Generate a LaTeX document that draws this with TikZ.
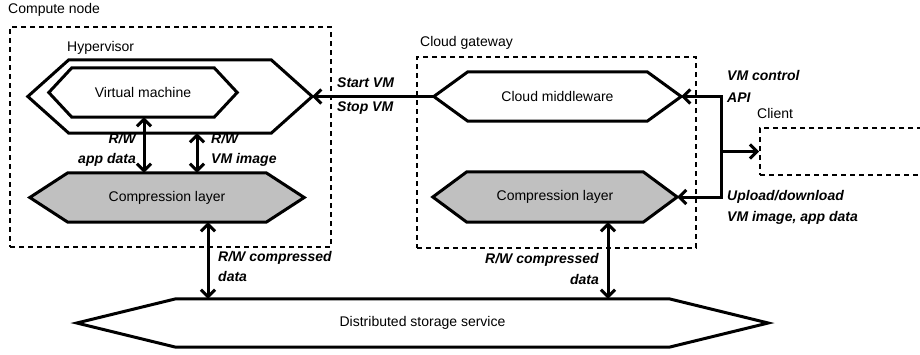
\documentclass[tikz,border=0pt]{standalone}
\usepackage{fontspec}
\setmainfont{Liberation Sans}
\usetikzlibrary{arrows.meta,backgrounds}
\definecolor{layergray}{RGB}{192,192,192}
\newcommand\hexoutline[3]{%
  \draw[hexline,#3] (#1.west) -- ([xshift=#2]#1.north west) -- ([xshift=-#2]#1.north east)
    -- (#1.east) -- ([xshift=-#2]#1.south east) -- ([xshift=#2]#1.south west) -- cycle;}
\begin{document}
\begin{tikzpicture}[x=1pt,y=-1pt,
  hexnode/.style={inner sep=0pt, font=\fontsize{14}{17}\selectfont},
  hexline/.style={line width=3pt, line join=miter},
  group/.style={draw, line width=1.8pt, dash pattern=on 5pt off 4pt, inner sep=0pt},
  grouplabel/.style={anchor=west, inner sep=0pt, font=\fontsize{14}{17}\selectfont},
  lbl/.style={inner sep=0pt, font=\fontsize{14}{20}\bfseries\itshape\selectfont},
  arr/.style={line width=3pt, -{Straight Barb[length=7pt,width=14pt]}},
  darr/.style={line width=3pt, {Straight Barb[length=7pt,width=14pt]}-{Straight Barb[length=7pt,width=14pt]}}]
\useasboundingbox (0,0) rectangle (920,354);

% groups
\node[group, minimum width=321pt, minimum height=220pt] (compute) at (170.5,137) {};
\node[group, minimum width=279pt, minimum height=191pt] (gateway) at (556.5,152.5) {};
\node[group, minimum width=170pt, minimum height=47pt] (client) at (845,151.5) {};
\node[grouplabel] (computelbl) at (8,10) {Compute node};
\node[grouplabel] (hvlbl) at (67,48) {Hypervisor};
\node[grouplabel] (gwlbl) at (420,43) {Cloud gateway};
\node[grouplabel] (clientlbl) at (757,113) {Client};

% hexagon nodes
\node[hexnode, minimum width=284pt, minimum height=73pt] (hv) at (170,96.5) {};
\node[hexnode, minimum width=188pt, minimum height=49pt] (vm) at (143,92.5) {Virtual machine};
\node[hexnode, minimum width=274pt, minimum height=49pt] (cl) at (167,197.5) {Compression layer};
\node[hexnode, minimum width=247pt, minimum height=49pt] (mw) at (557.5,96.5) {Cloud middleware};
\node[hexnode, minimum width=244pt, minimum height=50pt] (cr) at (555,197) {Compression layer};
\node[hexnode, minimum width=691pt, minimum height=48pt] (st) at (422.5,323) {Distributed storage service};

\begin{scope}[on background layer]
\hexoutline{hv}{41pt}{fill=white}
\hexoutline{vm}{23pt}{fill=white}
\hexoutline{cl}{38pt}{fill=layergray}
\hexoutline{mw}{34pt}{fill=white}
\hexoutline{cr}{34pt}{fill=layergray}
\hexoutline{st}{99pt}{fill=white}
\end{scope}

% connectors
\draw[arr] (mw.west) -- (hv.east);
\coordinate (jc) at (721,151.5);
\draw[arr] (jc) |- (mw.east);
\draw[arr] (jc) |- (cr.east);
\draw[arr] (jc) -- (client.west);

\coordinate (a1) at ([xshift=1pt]vm.south);
\draw[darr] (a1) -- (a1 |- cl.north);
\coordinate (a2) at ([xshift=27pt]hv.south);
\draw[darr] (a2) -- (a2 |- cl.north);
\coordinate (a3) at ([xshift=41pt]cl.south);
\draw[darr] (a3) -- (a3 |- st.north);
\coordinate (a4) at ([xshift=53pt]cr.south);
\draw[darr] (a4) -- (a4 |- st.north);

% labels
\node[lbl, anchor=west] (startvm) at (337,83) {Start VM};
\node[lbl, anchor=west] (stopvm) at (337,108) {Stop VM};
\node[lbl, align=right, anchor=east] (rwapp) at (136,150) {R/W\\app data};
\node[lbl, align=left, anchor=west] (rwimg) at (211,150) {R/W\\VM image};
\node[lbl, align=left, anchor=west] (rwc1) at (218,266) {R/W compressed\\data};
\node[lbl, align=right, anchor=east] (rwc2) at (599,269) {R/W compressed\\[1pt]data};
\node[lbl, align=left, anchor=west] (api) at (727,86) {VM control\\[2pt]API};
\node[lbl, align=left, anchor=west] (upl) at (727,207.5) {Upload/download\\[1pt]VM image, app data};
\end{tikzpicture}
\end{document}
